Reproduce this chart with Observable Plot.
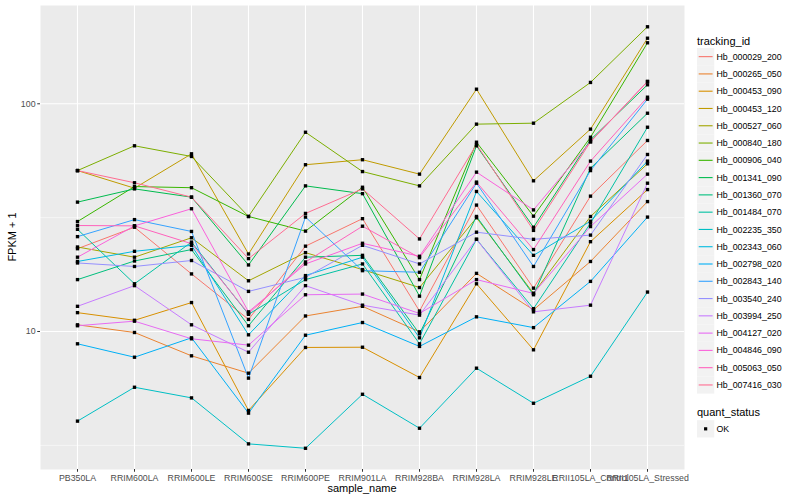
<!DOCTYPE html>
<html><head><meta charset="utf-8">
<script src="https://cdn.jsdelivr.net/npm/d3@7"></script>
<script src="https://cdn.jsdelivr.net/npm/@observablehq/plot@0.6"></script>
<style>
body{margin:0;background:#fff;}
#chart{width:800px;height:500px;}
</style></head><body><div id="chart"></div>
<script>
const samples = ["PB350LA","RRIM600LA","RRIM600LE","RRIM600SE","RRIM600PE","RRIM901LA","RRIM928BA","RRIM928LA","RRIM928LE","RRII105LA_Control","RRII105LA_Stressed"];
const trackingIds = ["Hb_000029_200","Hb_000265_050","Hb_000453_090","Hb_000453_120","Hb_000527_060","Hb_000840_180","Hb_000906_040","Hb_001341_090","Hb_001360_070","Hb_001484_070","Hb_002235_350","Hb_002343_060","Hb_002798_020","Hb_002843_140","Hb_003540_240","Hb_003994_250","Hb_004127_020","Hb_004846_090","Hb_005063_050","Hb_007416_030"];
const hueColors = ["#F8766D","#EA8331","#D89000","#C09B00","#A3A500","#7CAE00","#39B600","#00BB4E","#00BF7D","#00C1A3","#00BFC4","#00BAE0","#00B0F6","#35A2FF","#9590FF","#C77CFF","#E76BF3","#FA62DB","#FF62BC","#FF6C91"];
const statusLevels = ["OK"];

// FPKM + 1 per sample (order of `samples`)
const hb_000029_200 = [23.1, 28.7, 17.9, 11.3, 23.7, 31.3, 12.3, 35.9, 15.5, 39.3, 69.0];
const hb_000265_050 = [10.7, 9.9, 7.82, 6.56, 11.7, 12.9, 9.97, 18.0, 12.45, 20.3, 37.2];
const hb_000453_090 = [12.1, 11.2, 13.4, 4.50, 8.51, 8.53, 6.28, 16.2, 8.31, 24.8, 42.0];
const hb_000453_120 = [50.9, 42.6, 60.3, 21.9, 54.0, 56.8, 49.1, 115.9, 45.9, 77.4, 194.1];
const hb_000527_060 = [23.5, 21.2, 25.8, 16.7, 22.2, 18.7, 15.6, 31.6, 14.7, 32.0, 54.5];
const hb_000840_180 = [50.9, 65.4, 58.7, 32.0, 75.0, 50.4, 43.6, 81.4, 82.2, 124.1, 217.9];
const hb_000906_040 = [30.4, 43.3, 42.8, 32.0, 27.6, 43.0, 16.9, 67.8, 32.1, 71.3, 185.3];
const hb_001341_090 = [37.0, 42.3, 38.9, 19.6, 43.6, 40.3, 14.3, 65.4, 28.7, 69.5, 121.2];
const hb_001360_070 = [16.9, 20.4, 22.9, 10.6, 21.2, 21.6, 9.77, 32.0, 14.5, 52.1, 90.9];
const hb_001484_070 = [28.1, 16.2, 24.7, 11.9, 16.9, 19.8, 8.83, 25.4, 12.6, 29.9, 78.9];
const hb_002235_350 = [4.04, 5.69, 5.11, 3.21, 3.07, 5.30, 3.76, 6.90, 4.84, 6.36, 14.9];
const hb_002343_060 = [20.3, 22.5, 23.9, 9.67, 17.6, 21.2, 9.38, 41.2, 21.6, 30.5, 56.0];
const hb_002798_020 = [8.83, 7.71, 9.38, 4.38, 9.63, 10.95, 8.60, 11.6, 10.4, 16.6, 31.8];
const hb_002843_140 = [26.1, 31.0, 27.5, 6.24, 31.8, 18.5, 18.2, 44.8, 19.3, 50.9, 104.8];
const hb_003540_240 = [20.0, 19.3, 20.5, 15.0, 17.3, 23.9, 19.8, 27.3, 25.4, 26.5, 59.9];
const hb_003994_250 = [12.9, 15.9, 10.7, 8.11, 15.9, 13.05, 11.8, 25.4, 12.2, 13.05, 44.8];
const hb_004127_020 = [10.6, 11.1, 9.29, 8.71, 14.5, 14.6, 12.0, 16.9, 14.7, 28.9, 49.1];
const hb_004846_090 = [21.2, 29.1, 34.6, 12.2, 19.8, 24.4, 21.4, 50.1, 34.2, 68.1, 125.3];
const hb_005063_050 = [29.2, 29.1, 24.3, 12.0, 20.2, 29.0, 21.1, 45.3, 22.9, 56.0, 106.9];
const hb_007416_030 = [50.9, 45.0, 38.9, 20.9, 33.0, 42.3, 25.5, 66.3, 27.8, 68.1, 125.3];

const seriesValues = [hb_000029_200, hb_000265_050, hb_000453_090, hb_000453_120, hb_000527_060, hb_000840_180, hb_000906_040, hb_001341_090, hb_001360_070, hb_001484_070, hb_002235_350, hb_002343_060, hb_002798_020, hb_002843_140, hb_003540_240, hb_003994_250, hb_004127_020, hb_004846_090, hb_005063_050, hb_007416_030];

const yMajor = [10, 100];
const yMinor = [Math.sqrt(10), Math.sqrt(1000)];

const rows = [];
trackingIds.forEach((id, i) => samples.forEach((s, j) => rows.push({tracking_id: id, sample_name: s, fpkm: seriesValues[i][j], quant_status: statusLevels[0]})));

const FONT = "'Liberation Sans', Arial, Helvetica, sans-serif";
const chart = Plot.plot({
  width: 800, height: 500,
  marginLeft: 40, marginRight: 116, marginTop: 5, marginBottom: 31,
  style: {fontFamily: FONT, fontSize: "8.8px", background: "white", overflow: "visible"},
  x: {type: "point", domain: samples, padding: 0.6, label: null},
  y: {type: "log", domain: [2.477, 270.2], label: null},
  color: {domain: trackingIds, range: hueColors},
  marks: [
    Plot.frame({fill: "#EBEBEB", stroke: null}),
    Plot.gridY(yMinor, {stroke: "white", strokeOpacity: 1, strokeWidth: 0.55}),
    Plot.gridY(yMajor, {stroke: "white", strokeOpacity: 1, strokeWidth: 1.1}),
    Plot.gridX(samples, {stroke: "white", strokeOpacity: 1, strokeWidth: 1.1}),
    Plot.line(rows, {x: "sample_name", y: "fpkm", z: "tracking_id", stroke: "tracking_id", strokeWidth: 1}),
    Plot.dot(rows, {x: "sample_name", y: "fpkm", symbol: "square", r: 1.9, fill: "black", stroke: null}),
    Plot.axisX({tickSize: 2.75, tickPadding: 2.5, fontSize: 8.8, stroke: "#333333", fill: "#4D4D4D", label: null}),
    Plot.axisY({ticks: yMajor, tickFormat: d => String(d), tickSize: 2.75, tickPadding: 2.2, fontSize: 8.8, stroke: "#333333", fill: "#4D4D4D", label: null})
  ]
});
document.getElementById("chart").appendChild(chart);

// Axis titles and legends (text + keys)
const svg = d3.select(chart);
const g = svg.append("g").attr("font-family", FONT).attr("fill", "black").attr("text-anchor", "start");
g.append("text").attr("x", 362).attr("y", 492).attr("text-anchor", "middle").attr("font-size", 11).text("sample_name");
g.append("text").attr("transform", "translate(16,237) rotate(-90)").attr("text-anchor", "middle").attr("font-size", 11).text("FPKM + 1");

const keyH = 17.28;
g.append("text").attr("x", 697).attr("y", 44.5).attr("text-anchor", "start").attr("font-size", 11).text("tracking_id");
trackingIds.forEach((id, i) => {
  const y0 = 48 + i * keyH;
  g.append("rect").attr("x", 697).attr("y", y0).attr("width", keyH).attr("height", keyH).attr("fill", "#F2F2F2");
  g.append("line").attr("x1", 698.7).attr("x2", 712.6).attr("y1", y0 + keyH / 2).attr("y2", y0 + keyH / 2).attr("stroke", hueColors[i]).attr("stroke-width", 1.1);
  g.append("text").attr("x", 716.5).attr("y", y0 + keyH / 2).attr("dy", "0.35em").attr("text-anchor", "start").attr("font-size", 8.8).text(id);
});
g.append("text").attr("x", 697).attr("y", 416).attr("text-anchor", "start").attr("font-size", 11).text("quant_status");
statusLevels.forEach((s, i) => {
  const y0 = 420.2 + i * keyH;
  g.append("rect").attr("x", 697).attr("y", y0).attr("width", keyH).attr("height", keyH).attr("fill", "#F2F2F2");
  g.append("rect").attr("x", 697 + keyH / 2 - 1.6).attr("y", y0 + keyH / 2 - 1.6).attr("width", 3.2).attr("height", 3.2).attr("fill", "black");
  g.append("text").attr("x", 716.5).attr("y", y0 + keyH / 2).attr("dy", "0.35em").attr("text-anchor", "start").attr("font-size", 8.8).text(s);
});
</script></body></html>
